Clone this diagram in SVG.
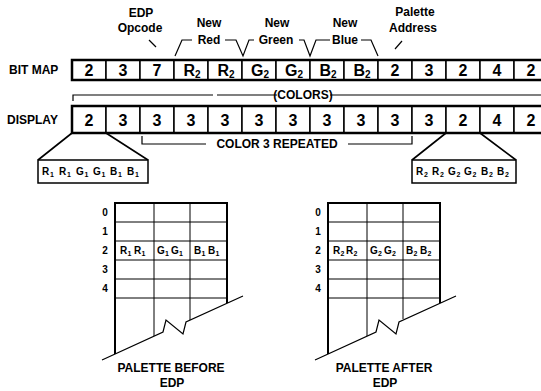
<svg xmlns="http://www.w3.org/2000/svg" width="541" height="391" viewBox="0 0 541 391">
<style>
.t{font-family:"Liberation Sans",Arial,Helvetica,sans-serif;font-weight:bold;fill:#000}
.lb{font-size:12px}
.hd{font-size:12px;text-anchor:middle}
.cv{font-size:16px;text-anchor:middle}
.sb{font-size:10px}
.sm{font-size:10px}
.ss{font-size:7px}
.pl{font-size:10px}
.cell{fill:#fff;stroke:#000;stroke-width:1.5}
.row{fill:none;stroke:#000;stroke-width:2.5}
.ln{fill:none;stroke:#000;stroke-width:1.2}
.tk{fill:none;stroke:#000;stroke-width:1.6}
.gr{fill:none;stroke:#000;stroke-width:1}
.go{fill:none;stroke:#000;stroke-width:2}
</style>
<rect width="541" height="391" fill="#fff"/>

<!-- header labels -->
<g id="labels">
<text class="t hd" x="141" y="17">EDP</text>
<text class="t hd" x="140" y="32">Opcode</text>
<text class="t hd" x="209" y="27">New</text>
<text class="t hd" x="209" y="44">Red</text>
<text class="t hd" x="277" y="27">New</text>
<text class="t hd" x="276" y="44">Green</text>
<text class="t hd" x="345" y="27">New</text>
<text class="t hd" x="345" y="44">Blue</text>
<text class="t hd" x="415" y="16">Palette</text>
<text class="t hd" x="413" y="32">Address</text>
</g>

<g id="connectors">
<path class="ln" d="M149,40 L156,47"/>
<path class="ln" d="M395,49 L402,41"/>
<path class="ln" d="M175,56 L182,40 H192 M225,40 H236 L243,56 L249,40 H254 M299,40 H304 L310,56 L316,40 H330 M361,40 H371 L378,56"/>
<!-- colors bracket -->
<path class="ln" d="M73,101 V95 H213 M217,95 H277 M330,95 H541"/>
<!-- color 3 repeated bracket -->
<path class="ln" d="M142,136 V144 H206 M348,144 H412 V136"/>
<!-- expansion lines -->
<path class="tk" d="M72,133 L38,160 M106,133 L148,160"/>
<path class="tk" d="M446,133 L412,160 M480,133 L516,160"/>
</g>

<!-- bit map row -->
<g id="bitmap">
<text class="t lb" x="9" y="74">BIT MAP</text>
<g id="bm-cells">
<rect class="cell" x="72" y="60" width="34" height="20"/>
<rect class="cell" x="106" y="60" width="34" height="20"/>
<rect class="cell" x="140" y="60" width="34" height="20"/>
<rect class="cell" x="174" y="60" width="34" height="20"/>
<rect class="cell" x="208" y="60" width="34" height="20"/>
<rect class="cell" x="242" y="60" width="34" height="20"/>
<rect class="cell" x="276" y="60" width="34" height="20"/>
<rect class="cell" x="310" y="60" width="34" height="20"/>
<rect class="cell" x="344" y="60" width="34" height="20"/>
<rect class="cell" x="378" y="60" width="34" height="20"/>
<rect class="cell" x="412" y="60" width="34" height="20"/>
<rect class="cell" x="446" y="60" width="34" height="20"/>
<rect class="cell" x="480" y="60" width="34" height="20"/>
<rect class="cell" x="514" y="60" width="34" height="20"/>
<rect class="row" x="72" y="60" width="480" height="20"/>
</g>
<g id="bm-values">
<text class="t cv" x="89" y="76">2</text>
<text class="t cv" x="123" y="76">3</text>
<text class="t cv" x="157" y="76">7</text>
<text class="t cv" x="192" y="76">R<tspan class="sb" dy="2">2</tspan></text>
<text class="t cv" x="226" y="76">R<tspan class="sb" dy="2">2</tspan></text>
<text class="t cv" x="260" y="76">G<tspan class="sb" dy="2">2</tspan></text>
<text class="t cv" x="294" y="76">G<tspan class="sb" dy="2">2</tspan></text>
<text class="t cv" x="328" y="76">B<tspan class="sb" dy="2">2</tspan></text>
<text class="t cv" x="362" y="76">B<tspan class="sb" dy="2">2</tspan></text>
<text class="t cv" x="395" y="76">2</text>
<text class="t cv" x="429" y="76">3</text>
<text class="t cv" x="463" y="76">2</text>
<text class="t cv" x="497" y="76">4</text>
<text class="t cv" x="531" y="76">2</text>
</g>
</g>

<text class="t hd" x="303" y="99">(COLORS)</text>

<!-- display row -->
<g id="display">
<text class="t lb" x="7" y="124">DISPLAY</text>
<g id="dp-cells">
<rect class="cell" x="72" y="106" width="34" height="27"/>
<rect class="cell" x="106" y="106" width="34" height="27"/>
<rect class="cell" x="140" y="106" width="34" height="27"/>
<rect class="cell" x="174" y="106" width="34" height="27"/>
<rect class="cell" x="208" y="106" width="34" height="27"/>
<rect class="cell" x="242" y="106" width="34" height="27"/>
<rect class="cell" x="276" y="106" width="34" height="27"/>
<rect class="cell" x="310" y="106" width="34" height="27"/>
<rect class="cell" x="344" y="106" width="34" height="27"/>
<rect class="cell" x="378" y="106" width="34" height="27"/>
<rect class="cell" x="412" y="106" width="34" height="27"/>
<rect class="cell" x="446" y="106" width="34" height="27"/>
<rect class="cell" x="480" y="106" width="34" height="27"/>
<rect class="cell" x="514" y="106" width="34" height="27"/>
<rect class="row" x="72" y="106" width="480" height="27"/>
</g>
<g id="dp-values">
<text class="t cv" x="89" y="125.5">2</text>
<text class="t cv" x="123" y="125.5">3</text>
<text class="t cv" x="157" y="125.5">3</text>
<text class="t cv" x="191" y="125.5">3</text>
<text class="t cv" x="225" y="125.5">3</text>
<text class="t cv" x="259" y="125.5">3</text>
<text class="t cv" x="293" y="125.5">3</text>
<text class="t cv" x="327" y="125.5">3</text>
<text class="t cv" x="361" y="125.5">3</text>
<text class="t cv" x="395" y="125.5">3</text>
<text class="t cv" x="429" y="125.5">3</text>
<text class="t cv" x="463" y="125.5">2</text>
<text class="t cv" x="497" y="125.5">4</text>
<text class="t cv" x="531" y="125.5">2</text>
</g>
</g>

<text class="t hd" x="277" y="148">COLOR 3 REPEATED</text>

<!-- expansion boxes -->
<g id="exp-before">
<rect class="cell" x="38" y="160" width="110" height="23"/>
<text class="t sm" y="175"><tspan x="42">R</tspan><tspan class="ss" x="50" dy="2">1</tspan><tspan x="59" dy="-2">R</tspan><tspan class="ss" x="67" dy="2">1</tspan><tspan x="76" dy="-2">G</tspan><tspan class="ss" x="84.5" dy="2">1</tspan><tspan x="93" dy="-2">G</tspan><tspan class="ss" x="101.5" dy="2">1</tspan><tspan x="110" dy="-2">B</tspan><tspan class="ss" x="118" dy="2">1</tspan><tspan x="127" dy="-2">B</tspan><tspan class="ss" x="135" dy="2">1</tspan></text>
</g>
<g id="exp-after">
<rect class="cell" x="412" y="160" width="104" height="23"/>
<text class="t sm" y="175"><tspan x="416">R</tspan><tspan class="ss" x="424" dy="2">2</tspan><tspan x="432" dy="-2">R</tspan><tspan class="ss" x="440" dy="2">2</tspan><tspan x="448" dy="-2">G</tspan><tspan class="ss" x="456.5" dy="2">2</tspan><tspan x="464" dy="-2">G</tspan><tspan class="ss" x="472.5" dy="2">2</tspan><tspan x="481" dy="-2">B</tspan><tspan class="ss" x="489" dy="2">2</tspan><tspan x="497" dy="-2">B</tspan><tspan class="ss" x="505" dy="2">2</tspan></text>
</g>

<!-- palette before -->
<g id="palette-before">
<path class="gr" d="M115,222 H227 M115,241 H227 M115,260 H227 M115,279 H227 M115,298 H227 M154,203 V336 M190,203 V320"/>
<path class="go" d="M115,354 V203 H227 V303"/>
<path class="ln" d="M102,360 L163,332 L166,320 L183,334 L186,322 L243,296"/>
<text class="t pl" x="105" y="216" text-anchor="middle">0</text>
<text class="t pl" x="105" y="235" text-anchor="middle">1</text>
<text class="t pl" x="105" y="254" text-anchor="middle">2</text>
<text class="t pl" x="105" y="273" text-anchor="middle">3</text>
<text class="t pl" x="105" y="292" text-anchor="middle">4</text>
<text class="t pl" y="254"><tspan x="120">R</tspan><tspan class="ss" x="127.5" dy="2">1</tspan><tspan x="134" dy="-2">R</tspan><tspan class="ss" x="141.5" dy="2">1</tspan><tspan x="157" dy="-2">G</tspan><tspan class="ss" x="165" dy="2">1</tspan><tspan x="171" dy="-2">G</tspan><tspan class="ss" x="179" dy="2">1</tspan><tspan x="194" dy="-2">B</tspan><tspan class="ss" x="201.5" dy="2">1</tspan><tspan x="208" dy="-2">B</tspan><tspan class="ss" x="215.5" dy="2">1</tspan></text>
<text class="t hd" x="171" y="372">PALETTE BEFORE</text>
<text class="t hd" x="172" y="387">EDP</text>
</g>

<!-- palette after -->
<g id="palette-after">
<path class="gr" d="M328,222 H440 M328,241 H440 M328,260 H440 M328,279 H440 M328,298 H440 M367,203 V336 M403,203 V319"/>
<path class="go" d="M328,354 V203 H440 V303"/>
<path class="ln" d="M315,360 L376,332 L379,320 L396,334 L399,322 L456,296"/>
<text class="t pl" x="318" y="216" text-anchor="middle">0</text>
<text class="t pl" x="318" y="235" text-anchor="middle">1</text>
<text class="t pl" x="318" y="254" text-anchor="middle">2</text>
<text class="t pl" x="318" y="273" text-anchor="middle">3</text>
<text class="t pl" x="318" y="292" text-anchor="middle">4</text>
<text class="t pl" y="254"><tspan x="333">R</tspan><tspan class="ss" x="340.5" dy="2">2</tspan><tspan x="346" dy="-2">R</tspan><tspan class="ss" x="353.5" dy="2">2</tspan><tspan x="370" dy="-2">G</tspan><tspan class="ss" x="378" dy="2">2</tspan><tspan x="384" dy="-2">G</tspan><tspan class="ss" x="392" dy="2">2</tspan><tspan x="406" dy="-2">B</tspan><tspan class="ss" x="413.5" dy="2">2</tspan><tspan x="420" dy="-2">B</tspan><tspan class="ss" x="427.5" dy="2">2</tspan></text>
<text class="t hd" x="384" y="372">PALETTE AFTER</text>
<text class="t hd" x="385" y="387">EDP</text>
</g>
</svg>
